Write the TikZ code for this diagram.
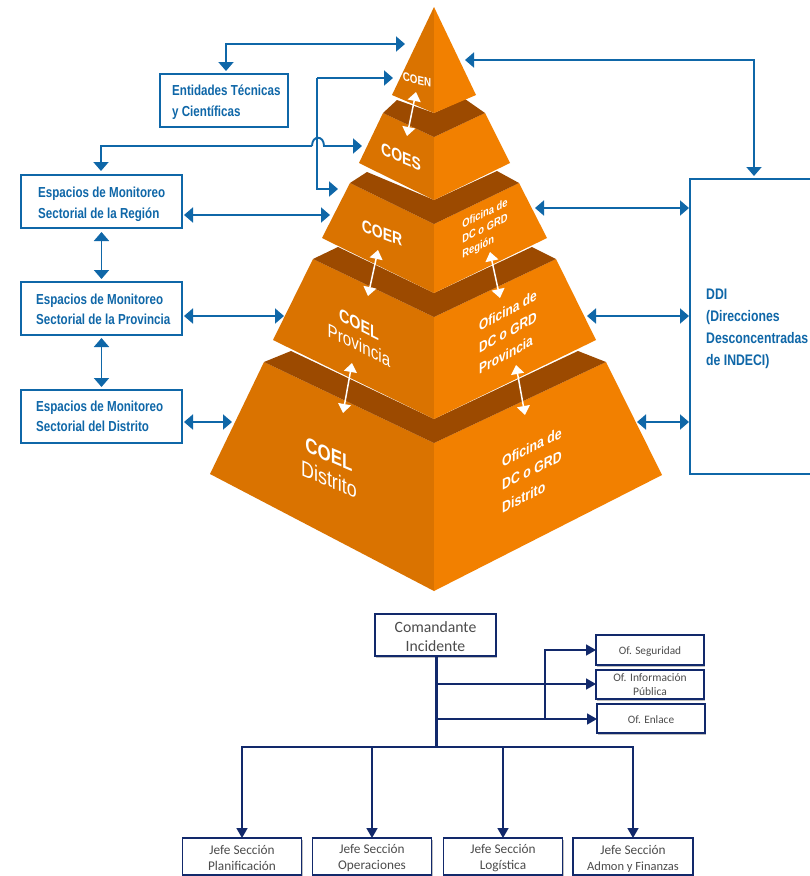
\documentclass[tikz,border=0pt]{standalone}
\usepackage{fontspec}
\usetikzlibrary{arrows.meta,shadows,calc}
\setmainfont{Liberation Sans}
\newfontfamily\cnd[FakeStretch=0.8]{Liberation Sans}
\newfontfamily\clb{Carlito}
\newcommand{\dnrule}[1]{\rule{0pt}{#1pt}}
\definecolor{pyrL}{HTML}{DA7300}
\definecolor{pyrR}{HTML}{F28000}
\definecolor{pyrD}{HTML}{9C4A00}
\definecolor{blu}{HTML}{0F67A8}
\definecolor{nav}{HTML}{12296B}
\tikzset{
  faceL/.style={fill=pyrL,draw=none},
  faceR/.style={fill=pyrR,draw=none},
  band/.style={fill=pyrD,draw=none},
  bluebox/.style={draw=blu,line width=1.7pt,fill=white,inner sep=0pt,outer sep=0pt},
  bluetxt/.style={text=blu,inner sep=0pt,anchor=west,align=left,font=\cnd\bfseries\fontsize{14.5}{20.5}\selectfont},
  navbox/.style={draw=nav,line width=1.3pt,fill=white,inner sep=0pt,outer sep=0pt,text=black!70,align=center,drop shadow={shadow xshift=1pt,shadow yshift=-1.5pt,fill=black,opacity=0.25}},
  blueln/.style={draw=blu,line width=1.9pt,arrows={-Triangle[length=9pt,width=15pt]}},
  bluedbl/.style={draw=blu,line width=1.9pt,arrows={Triangle[length=9pt,width=15pt]-Triangle[length=9pt,width=15pt]}},
  whitedbl/.style={draw=white,line width=1.5pt,arrows={Triangle[length=9pt,width=13pt]-Triangle[length=9pt,width=13pt]}},
  navln/.style={draw=nav,line width=1.7pt,arrows={-Triangle[length=10pt,width=11pt]}},
  plabel/.style={text=white,inner sep=0pt,align=center,transform shape},
  plabelr/.style={text=white,inner sep=0pt,align=left,transform shape},
}
\begin{document}
\begin{tikzpicture}[x=1pt,y=-1pt]
\useasboundingbox (0,0) rectangle (810,876);
\fill[white] (0,0) rectangle (810,876);
% ---- pyramid
\fill[faceL] (264,362)--(434,443)--(434,591)--(210,474)--cycle;
\fill[faceR] (606,362)--(434,443)--(434,591)--(662,475)--cycle;
\fill[band] (264,362)--(291,351)--(434,419)--(578,351)--(606,362)--(434,443)--cycle;
\fill[faceL] (313,259)--(434,317)--(434,419)--(273,340)--cycle;
\fill[faceR] (556,259)--(434,317)--(434,419)--(596,340)--cycle;
\fill[band] (313,259)--(338,247)--(434,293)--(532,247)--(556,259)--(434,317)--cycle;
\fill[faceL] (350,183)--(434,224)--(434,293)--(322,238)--cycle;
\fill[faceR] (519,183)--(434,224)--(434,293)--(547,238)--cycle;
\fill[band] (350,183)--(367,172)--(434,200)--(497,171)--(519,183)--(434,224)--cycle;
\fill[faceL] (383,113)--(434,137)--(434,200)--(359,163)--cycle;
\fill[faceR] (485,113)--(434,137)--(434,200)--(510,163)--cycle;
\fill[band] (383,113)--(397,100)--(434,113)--(465,99)--(485,113)--(434,137)--cycle;
\fill[faceL] (434,7)--(434,113)--(392,95)--cycle;
\fill[faceR] (434,7)--(434,113)--(476,95)--cycle;
% ---- pyramid labels
\node[plabel,cm={1,-0.24,0,1,(417,80)},font=\cnd\bfseries\fontsize{12.2}{14}\selectfont] (coen) at (0,0) {COEN};
\node[plabel,cm={1,-0.42,0,1,(401,157)},font=\cnd\bfseries\fontsize{17.5}{20}\selectfont] (coes) at (0,0) {COES};
\node[plabel,cm={1,-0.38,0,1,(382,233)},font=\cnd\bfseries\fontsize{17.5}{20}\selectfont] (coer) at (0,0) {COER};
\node[plabel,cm={1,-0.5,0,1,(359,335)},font=\cnd\fontsize{19}{21}\selectfont] (coelp) at (0,0) {{\bfseries\fontsize{18}{21}\selectfont COEL}\\Provincia};
\node[plabel,cm={1,-0.42,0,1,(329,467)},font=\cnd\fontsize{22.3}{25}\selectfont] (coeld) at (0,0) {{\bfseries\fontsize{21.2}{25}\selectfont COEL}\\Distrito};
\node[plabelr,cm={1,0.5,0,1,(485,229)},font=\cnd\bfseries\fontsize{11.7}{15}\selectfont] (ofr) at (0,0) {Oficina de\\DC o GRD\\Región};
\node[plabelr,cm={1,0.55,0,1,(508,332)},font=\cnd\bfseries\fontsize{14.9}{21.5}\selectfont] (ofp) at (0,0) {Oficina de\\DC o GRD\\Provincia};
\node[plabelr,cm={1,0.5,0,1,(532,470)},font=\cnd\bfseries\fontsize{15.4}{23}\selectfont] (ofd) at (0,0) {Oficina de\\DC o GRD\\Distrito};
% ---- white arrows
\coordinate (w1a) at (416,92); \coordinate (w1b) at (407,136);
\coordinate (w2a) at (378,250); \coordinate (w2b) at (368,296);
\coordinate (w3a) at (490,252); \coordinate (w3b) at (500,298);
\coordinate (w4a) at (352,363); \coordinate (w4b) at (343,413);
\coordinate (w5a) at (516,365); \coordinate (w5b) at (525,415);
\draw[whitedbl] (w1a)--(w1b);
\draw[whitedbl] (w2a)--(w2b);
\draw[whitedbl] (w3a)--(w3b);
\draw[whitedbl] (w4a)--(w4b);
\draw[whitedbl] (w5a)--(w5b);
% ---- blue boxes
\node[bluebox,minimum width=128pt,minimum height=53pt] (ent) at (224,100.5) {};
\node[bluebox,minimum width=161pt,minimum height=53pt] (espR) at (101.5,201.5) {};
\node[bluebox,minimum width=161pt,minimum height=53pt] (espP) at (101.5,308.5) {};
\node[bluebox,minimum width=161pt,minimum height=53pt] (espD) at (101.5,416.5) {};
\node[bluebox,minimum width=125pt,minimum height=295pt,fill=none] (ddi) at (752.5,326.5) {};
\node[bluetxt] (entT) at (172,102) {Entidades Técnicas\\y Científicas};
\node[bluetxt] (espRT) at (38,204.5) {Espacios de Monitoreo\\Sectorial de la Región};
\node[bluetxt] (espPT) at (36,309.5) {Espacios de Monitoreo\\Sectorial de la Provincia};
\node[bluetxt] (espDT) at (36,416.5) {Espacios de Monitoreo\\Sectorial del Distrito};
\node[bluetxt,font=\cnd\bfseries\fontsize{15.3}{22}\selectfont] (ddiT) at (706,328.5) {DDI\\(Direcciones\\Desconcentradas\\de INDECI)};
% ---- connector end points on the pyramid
\coordinate (pA) at (405,44);
\coordinate (pB) at (393,78);
\coordinate (pC) at (362,146);
\coordinate (pD) at (338,189);
\coordinate (pE) at (330,215);
\coordinate (pF) at (284,316);
\coordinate (pG) at (232,422);
\coordinate (qA) at (465,60);
\coordinate (qE) at (535,208);
\coordinate (qF) at (587,316);
\coordinate (qG) at (637,422);
\coordinate (hop1) at (312,146);
\coordinate (hop2) at (324,146);
\coordinate (vtop) at (317,78);
% ---- blue connectors
\draw[bluedbl,shorten <=3pt] (ent.north -| 226,0) -- (226,44) -- (pA);
\draw[blueln] (vtop) -- (pB);
\draw[blueln] (vtop) -- (317,189) -- (pD);
\draw[blueln,shorten >=4pt] (hop1) -- (101,146) -- (espR.north -| 101,0);
\draw[blueln] (hop1) .. controls (312,135) and (324,135) .. (hop2) -- (pC);
\draw[bluedbl,shorten <=2pt] (espR.east |- pE) -- (pE);
\draw[bluedbl,shorten <=2pt] (espP.east |- pF) -- (pF);
\draw[bluedbl,shorten <=2pt] (espD.east |- pG) -- (pG);
\draw[bluedbl,shorten <=4pt,shorten >=3pt] (espR.south) -- (espP.north);
\draw[bluedbl,shorten <=3pt,shorten >=3pt] (espP.south) -- (espD.north);
\draw[bluedbl,shorten >=3pt] (qA) -- (754,60) -- (754,179);
\draw[bluedbl,shorten >=1pt] (qE) -- (qE -| ddi.west);
\draw[bluedbl,shorten >=1pt] (qF) -- (qF -| ddi.west);
\draw[bluedbl,shorten >=1pt] (qG) -- (qG -| ddi.west);
% ---- lower chart
\node[navbox,minimum width=121pt,minimum height=42pt,font=\clb\fontsize{15.7}{19}\selectfont] (com) at (435.5,635) {\dnrule{15}Comandante\\Incidente};
\node[navbox,minimum width=108pt,minimum height=30pt,font=\clb\fontsize{11.3}{14}\selectfont] (seg) at (650,650) {\dnrule{11}Of. Seguridad};
\node[navbox,minimum width=108pt,minimum height=29pt,font=\clb\fontsize{11.5}{14}\selectfont] (inf) at (650,684.5) {Of. Información\\Pública};
\node[navbox,minimum width=108pt,minimum height=29pt,font=\clb\fontsize{11.3}{14}\selectfont] (enl) at (651,718.5) {\dnrule{10}Of. Enlace};
\node[navbox,minimum width=119pt,minimum height=37pt,font=\clb\fontsize{13.3}{16}\selectfont] (j1) at (242,856.5) {\dnrule{13}Jefe Sección\\Planificación};
\node[navbox,minimum width=119pt,minimum height=37pt,font=\clb\fontsize{13.3}{16}\selectfont] (j2) at (372,856.5) {\dnrule{13}Jefe Sección\\Operaciones};
\node[navbox,minimum width=119pt,minimum height=37pt,font=\clb\fontsize{13.3}{16}\selectfont] (j3) at (503,856.5) {\dnrule{13}Jefe Sección\\Logística};
\node[navbox,minimum width=120pt,minimum height=37pt,font=\clb\fontsize{13.3}{16}\selectfont] (j4) at (633,856.5) {\dnrule{13}Jefe Sección\\{\fontsize{12.5}{16}\selectfont Admon y Finanzas}};
\coordinate (bus) at (436,747);
\coordinate (t2) at (436,684);
\coordinate (t3) at (436,719);
\draw[nav,line width=3pt] (com.south -| bus) -- (bus);
\draw[navln] (t2) -- (t2 -| inf.west);
\draw[navln] (t3) -- (t3 -| enl.west);
\draw[nav,line width=2.6pt] (t3) -- (545,719);
\draw[navln] (545,719) -- (545,650) -- (seg.west);
\draw[navln] (bus) -- (242,747) -- (j1.north);
\draw[navln] (bus) -- (372,747) -- (j2.north);
\draw[navln] (bus) -- (503,747) -- (j3.north);
\draw[navln] (bus) -- (633,747) -- (j4.north);
\end{tikzpicture}
\end{document}
